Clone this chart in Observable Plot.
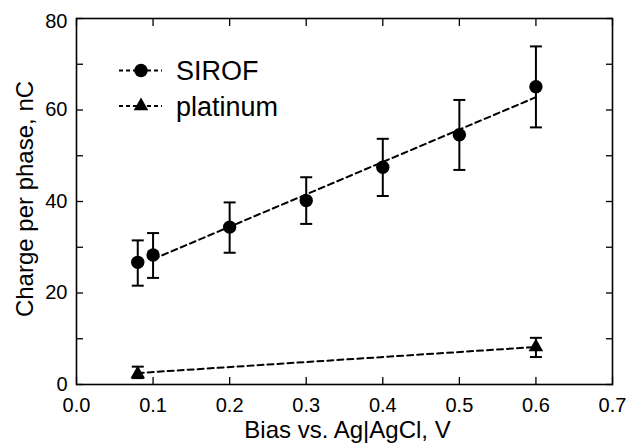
<!DOCTYPE html>
<html>
<head>
<meta charset="utf-8">
<script src="https://cdn.jsdelivr.net/npm/d3@7"></script>
<script src="https://cdn.jsdelivr.net/npm/@observablehq/plot@0.6"></script>
<style>
  body { margin: 0; background: #fff; }
  #wrap { position: relative; width: 628px; height: 443px; }
  #legend { position: absolute; left: 0; top: 0; pointer-events: none; }
</style>
</head>
<body>
<div id="wrap"></div>
<script>
// ---- data ----
const bias = [0.08, 0.1, 0.2, 0.3, 0.4, 0.5, 0.6];
const sirof = [26.7, 28.3, 34.4, 40.2, 47.5, 54.6, 65.1];
const sirofLow = [21.6, 23.3, 28.8, 35.1, 41.2, 46.9, 56.2];
const sirofHigh = [31.5, 33.1, 39.8, 45.3, 53.7, 62.2, 73.9];

const ptBias = [0.08, 0.6];
const platinum = [2.3, 8.2];
const ptLow = [1.4, 6.0];
const ptHigh = [3.9, 10.2];

const sirofFitX = [0.1, 0.6];
const sirofFitY = [27.4, 62.8];
const ptFitX = [0.08, 0.6];
const ptFitY = [2.5, 8.2];

const xTicks = [0, 0.1, 0.2, 0.3, 0.4, 0.5, 0.6, 0.7];
const yTicksAll = [0, 10, 20, 30, 40, 50, 60, 70, 80];
const yLabelsLow = [0, 20, 40, 60];
const yLabelTop = [80];

const seriesNames = ["SIROF", "platinum"];
const xTitle = "Bias vs. Ag|AgCl, V";
const yTitle = "Charge per phase, nC";

// ---- tables ----
const sirofRows = bias.map((x, i) => ({x, y: sirof[i], lo: sirofLow[i], hi: sirofHigh[i]}));
const ptRows = ptBias.map((x, i) => ({x, y: platinum[i], lo: ptLow[i], hi: ptHigh[i]}));
const errRows = sirofRows.concat(ptRows);
const sirofFit = sirofFitX.map((x, i) => ({x, y: sirofFitY[i]}));
const ptFit = ptFitX.map((x, i) => ({x, y: ptFitY[i]}));

const capSymbol = {
  draw(context, size) {
    const w = Math.sqrt(size / Math.PI);
    context.moveTo(-w, 0);
    context.lineTo(w, 0);
  }
};

const font = "Liberation Sans, Arial, Helvetica, sans-serif";
const T = 7; // tick length (drawn inward)

const chart = Plot.plot({
  width: 628,
  height: 443,
  marginLeft: 76,
  marginRight: 16,
  marginTop: 18,
  marginBottom: 59,
  x: {domain: [0, 0.7]},
  y: {domain: [0, 80]},
  style: {fontFamily: font, fontSize: "20px", background: "white", color: "black", overflow: "visible"},
  marks: [
    // inward ticks (outward ticks shifted back inside the frame)
    Plot.axisX({anchor: "bottom", ticks: xTicks, tickSize: T, dy: -T, tickFormat: () => "", label: null, strokeWidth: 1.3}),
    Plot.axisX({anchor: "top", ticks: xTicks, tickSize: T, dy: T, tickFormat: () => "", label: null, strokeWidth: 1.3}),
    Plot.axisY({anchor: "left", ticks: yTicksAll, tickSize: T, dx: T, tickFormat: () => "", label: null, strokeWidth: 1.3}),
    Plot.axisY({anchor: "right", ticks: yTicksAll, tickSize: T, dx: -T, tickFormat: () => "", label: null, strokeWidth: 1.3}),
    // tick labels
    Plot.axisX({anchor: "bottom", ticks: xTicks, tickSize: 0, tickPadding: 13, tickFormat: d3.format(".1f"), label: null, fontSize: 20}),
    Plot.axisY({anchor: "left", ticks: yLabelsLow, tickSize: 0, tickPadding: 9, tickFormat: d3.format("d"), label: null, fontSize: 20}),
    Plot.axisY({anchor: "left", ticks: yLabelTop, tickSize: 0, tickPadding: 9, tickFormat: d3.format("d"), label: null, fontSize: 20, dy: 3}),
    // axis titles
    Plot.text([xTitle], {frameAnchor: "bottom", text: d => d, textAnchor: "middle", lineAnchor: "middle", dy: 46, dx: 3, fontSize: 24}),
    Plot.text([yTitle], {frameAnchor: "left", text: d => d, textAnchor: "middle", lineAnchor: "middle", rotate: -90, dx: -51.5, dy: -2.5, fontSize: 24}),
    // fit lines
    Plot.line(sirofFit, {x: "x", y: "y", stroke: "black", strokeWidth: 2, strokeDasharray: "6,4"}),
    Plot.line(ptFit, {x: "x", y: "y", stroke: "black", strokeWidth: 2, strokeDasharray: "6,4"}),
    // error bars
    Plot.ruleX(errRows, {x: "x", y1: "lo", y2: "hi", stroke: "black", strokeWidth: 2}),
    Plot.dot(errRows, {x: "x", y: "lo", symbol: capSymbol, r: 6, stroke: "black", strokeWidth: 2, fill: "none"}),
    Plot.dot(errRows, {x: "x", y: "hi", symbol: capSymbol, r: 6, stroke: "black", strokeWidth: 2, fill: "none"}),
    // markers
    Plot.dot(sirofRows, {x: "x", y: "y", r: 6.7, fill: "black", stroke: "none", symbol: "circle"}),
    Plot.dot(ptRows, {x: "x", y: "y", r: 5.4, fill: "black", stroke: "none", symbol: "triangle"}),
    // frame
    Plot.frame({stroke: "black", strokeWidth: 1.6})
  ]
});

const wrap = document.getElementById("wrap");
wrap.appendChild(chart);

// ---- legend overlay ----
const legendItems = [
  {label: seriesNames[0], symbol: d3.symbolCircle, size: Math.PI * 6.7 * 6.7, cy: 70.5},
  {label: seriesNames[1], symbol: d3.symbolTriangle, size: Math.PI * 5.4 * 5.4, cy: 106}
];
const lg = d3.select(wrap).append("svg")
  .attr("id", "legend")
  .attr("width", 628).attr("height", 443);
const g = lg.selectAll("g").data(legendItems).join("g")
  .attr("transform", d => `translate(0,${d.cy})`);
g.append("line").attr("x1", 119).attr("x2", 162).attr("y1", 0).attr("y2", 0)
  .attr("stroke", "black").attr("stroke-width", 2).attr("stroke-dasharray", "4,3");
g.append("path").attr("transform", "translate(141,0)")
  .attr("d", d => d3.symbol(d.symbol, d.size)())
  .attr("fill", "black");
g.append("text").attr("x", 176).attr("y", 9.6)
  .attr("font-family", font).attr("font-size", 27).attr("fill", "black")
  .text(d => d.label);
</script>
</body>
</html>
